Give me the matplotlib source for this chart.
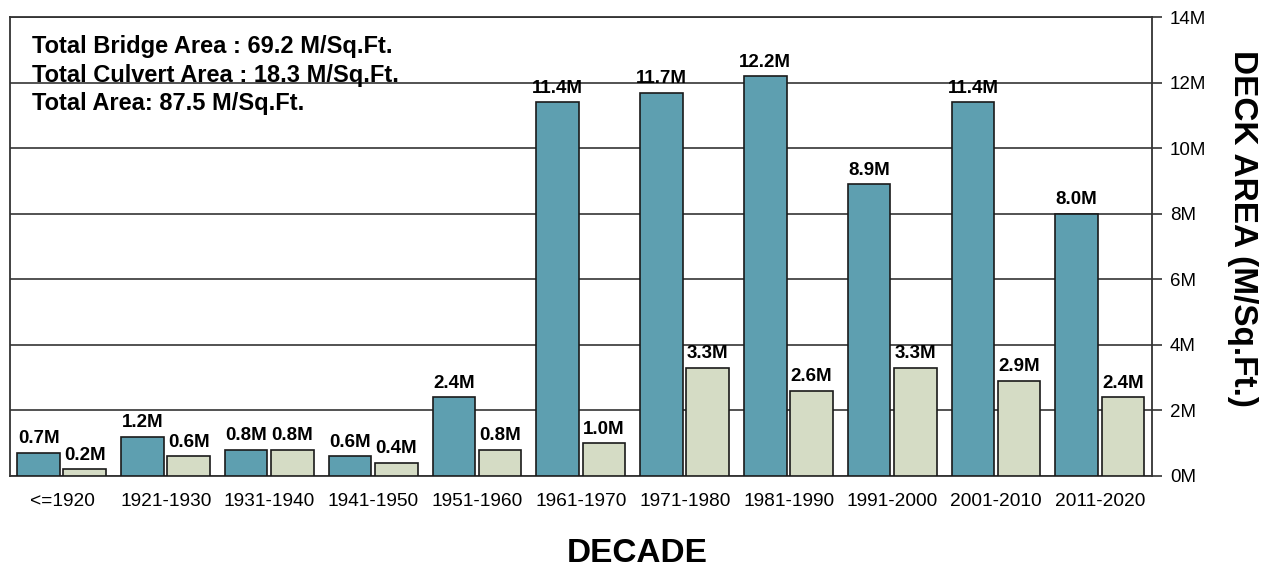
import numpy as np
import matplotlib.pyplot as plt
from matplotlib.ticker import FuncFormatter

plt.rcParams['font.family'] = ['Liberation Sans', 'DejaVu Sans']

decades = ['<=1920', '1921-1930', '1931-1940', '1941-1950', '1951-1960', '1961-1970',
           '1971-1980', '1981-1990', '1991-2000', '2001-2010', '2011-2020']
bridge = [0.7, 1.2, 0.8, 0.6, 2.4, 11.4, 11.7, 12.2, 8.9, 11.4, 8.0]
culvert = [0.2, 0.6, 0.8, 0.4, 0.8, 1.0, 3.3, 2.6, 3.3, 2.9, 2.4]
summary = ['Total Bridge Area : 69.2 M/Sq.Ft.',
           'Total Culvert Area : 18.3 M/Sq.Ft.',
           'Total Area: 87.5 M/Sq.Ft.']

fig = plt.figure(figsize=(12.7, 5.72), dpi=100)
ax = fig.add_axes([0.0079, 0.168, 0.8992, 0.802])

x = np.arange(len(decades))
w = 0.41
b1 = ax.bar(x - 0.225, bridge, w, color='#5e9fb0', edgecolor='#1a1a1a', linewidth=1.2, zorder=3)
b2 = ax.bar(x + 0.22, culvert, w, color='#d5dcc5', edgecolor='#1a1a1a', linewidth=1.2, zorder=3)

for bars, vals in [(b1, bridge), (b2, culvert)]:
    for rect, v in zip(bars, vals):
        ax.annotate(f'{v:.1f}M', (rect.get_x() + rect.get_width() / 2, v),
                    xytext=(0, 4), textcoords='offset points',
                    ha='center', va='bottom', fontsize=13.5, fontweight='bold')

ax.set_xlim(-0.5, len(decades) - 0.5)
ax.set_ylim(0, 14)
ax.set_yticks(np.arange(0, 15, 2))
ax.yaxis.set_major_formatter(FuncFormatter(lambda v, p: f'{v:.0f}M'))
ax.yaxis.tick_right()
ax.tick_params(axis='y', length=7, width=1.2, pad=6, labelsize=13.5, color='#333333')
ax.set_xticks(x)
ax.set_xticklabels(decades)
ax.tick_params(axis='x', length=0, pad=12, labelsize=13.8)
ax.grid(axis='y', color='#444444', linewidth=1.3, zorder=0)
for s in ax.spines.values():
    s.set_linewidth(1.3)
    s.set_color('#333333')

for i, line in enumerate(summary):
    ax.text(0.019, 0.935 - i * 0.062, line, transform=ax.transAxes,
            fontsize=17, fontweight='bold', va='center', ha='left')

fig.text(0.502, 0.033, 'DECADE', ha='center', va='center', fontsize=24, fontweight='bold')
fig.text(0.978, 0.60, 'DECK AREA (M/Sq.Ft.)', ha='center', va='center',
         rotation=270, fontsize=24, fontweight='bold')

fig.savefig('out.png', dpi=100)
